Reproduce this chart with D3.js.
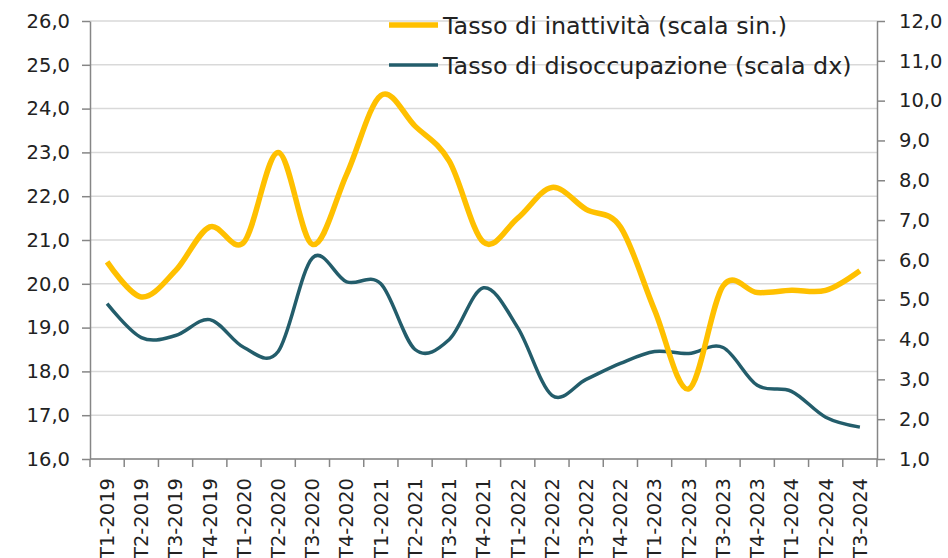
<!DOCTYPE html>
<html lang="it">
<head>
<meta charset="UTF-8">
<script src="https://d3js.org/d3.v7.min.js"></script>
<title>Tasso di inattività e disoccupazione</title>
<style>
  body { margin: 0; background: #fff; }
  text { font-family: "DejaVu Sans", sans-serif; fill: #222; }
</style>
</head>
<body>
<div id="chart"></div>
<script>
// categories (quarters)
var categories = ["T1-2019","T2-2019","T3-2019","T4-2019","T1-2020","T2-2020","T3-2020","T4-2020",
  "T1-2021","T2-2021","T3-2021","T4-2021","T1-2022","T2-2022","T3-2022","T4-2022",
  "T1-2023","T2-2023","T3-2023","T4-2023","T1-2024","T2-2024","T3-2024"];

// left scale series
var inattivita = [20.5, 19.7, 20.3, 21.3, 20.95, 23.0, 20.9, 22.5, 24.3, 23.6, 22.8, 20.95,
  21.5, 22.2, 21.7, 21.3, 19.4, 17.6, 19.95, 19.8, 19.85, 19.85, 20.3];

// right scale series
var disoccupazione = [4.9, 4.05, 4.1, 4.5, 3.8, 3.7, 6.05, 5.45, 5.4, 3.75, 4.0, 5.3,
  4.3, 2.6, 3.0, 3.4, 3.7, 3.65, 3.8, 2.85, 2.7, 2.05, 1.8];

var leftTicks = [16, 17, 18, 19, 20, 21, 22, 23, 24, 25, 26];
var rightTicks = [1, 2, 3, 4, 5, 6, 7, 8, 9, 10, 11, 12];

var seriesNames = ["Tasso di inattività (scala sin.)", "Tasso di disoccupazione (scala dx)"];

var W = 948, H = 558;
var margin = {top: 21, right: 71, bottom: 99, left: 90};
var width = W - margin.left - margin.right,
    height = H - margin.top - margin.bottom;

var fmt = function(d) { return d.toFixed(1).replace(".", ","); };

var svg = d3.select("#chart")
  .append("svg")
    .attr("width", W)
    .attr("height", H)
  .append("g")
    .attr("transform", "translate(" + margin.left + "," + margin.top + ")");

var x = d3.scaleBand()
  .domain(categories)
  .range([0, width])
  .padding(0);
var cx = function(d) { return x(d) + x.bandwidth() / 2; };

var yL = d3.scaleLinear().domain([16, 26]).range([height, 0]);
var yR = d3.scaleLinear().domain([1, 12]).range([height, 0]);

// gridlines
svg.append("g")
  .selectAll("line")
  .data(leftTicks)
  .enter()
  .append("line")
    .attr("x1", 0).attr("x2", width)
    .attr("y1", function(d) { return yL(d); })
    .attr("y2", function(d) { return yL(d); })
    .attr("stroke", "#d9d9d9")
    .attr("stroke-width", 1.5);

// left axis
var gL = svg.append("g")
  .call(d3.axisLeft(yL).tickValues(leftTicks).tickFormat(fmt).tickSize(8).tickSizeOuter(0).tickPadding(12));

// right axis
var gR = svg.append("g")
  .attr("transform", "translate(" + width + ",0)")
  .call(d3.axisRight(yR).tickValues(rightTicks).tickFormat(fmt).tickSize(8).tickSizeOuter(0).tickPadding(14));

// x axis: ticks at category boundaries, labels at centres
var bounds = categories.map(function(d) { return x(d); }).concat([x.range()[1]]);
var gX = svg.append("g").attr("transform", "translate(0," + height + ")");
gX.append("line")
  .attr("x1", 0).attr("x2", width)
  .attr("stroke", "#868686").attr("stroke-width", 1.5);
gX.selectAll(".bt")
  .data(bounds)
  .enter()
  .append("line")
    .attr("class", "bt")
    .attr("x1", function(d) { return d; })
    .attr("x2", function(d) { return d; })
    .attr("y1", 0).attr("y2", 8)
    .attr("stroke", "#868686").attr("stroke-width", 1.5);
gX.selectAll(".lab")
  .data(categories)
  .enter()
  .append("text")
    .attr("class", "lab")
    .attr("transform", function(d) { return "translate(" + cx(d) + ",19) rotate(-90)"; })
    .attr("text-anchor", "end")
    .attr("dy", "0.35em")
    .style("font-size", "19.5px")
    .text(function(d) { return d; });

[gL, gR].forEach(function(g) {
  g.select(".domain").attr("stroke", "#868686").attr("stroke-width", 1.5);
  g.selectAll(".tick line").attr("stroke", "#868686").attr("stroke-width", 1.5);
  g.selectAll(".tick text").style("font-size", "19.5px").attr("fill", "#222");
});

// lines (Excel-like smoothing)
var curve = d3.curveCardinal.tension(0);

var lineL = d3.line()
  .x(function(d, i) { return cx(categories[i]); })
  .y(function(d) { return yL(d); })
  .curve(curve);
var lineR = d3.line()
  .x(function(d, i) { return cx(categories[i]); })
  .y(function(d) { return yR(d); })
  .curve(curve);

svg.append("path")
  .datum(disoccupazione)
  .attr("fill", "none")
  .attr("stroke", "#235d6b")
  .attr("stroke-width", 3.5)
  .attr("d", lineR);

svg.append("path")
  .datum(inattivita)
  .attr("fill", "none")
  .attr("stroke", "#ffc000")
  .attr("stroke-width", 5.5)
  .attr("d", lineL);

// legend
var legend = svg.append("g").attr("transform", "translate(299,4)");
var legColors = ["#ffc000", "#235d6b"], legWidths = [5.5, 3.5];
seriesNames.forEach(function(name, i) {
  var g = legend.append("g").attr("transform", "translate(0," + (i * 40) + ")");
  g.append("line")
    .attr("x1", 0).attr("x2", 49)
    .attr("stroke", legColors[i]).attr("stroke-width", legWidths[i]);
  g.append("text")
    .attr("x", 54)
    .attr("dy", "0.36em")
    .style("font-size", "23.8px")
    .text(name);
});
</script>
</body>
</html>
